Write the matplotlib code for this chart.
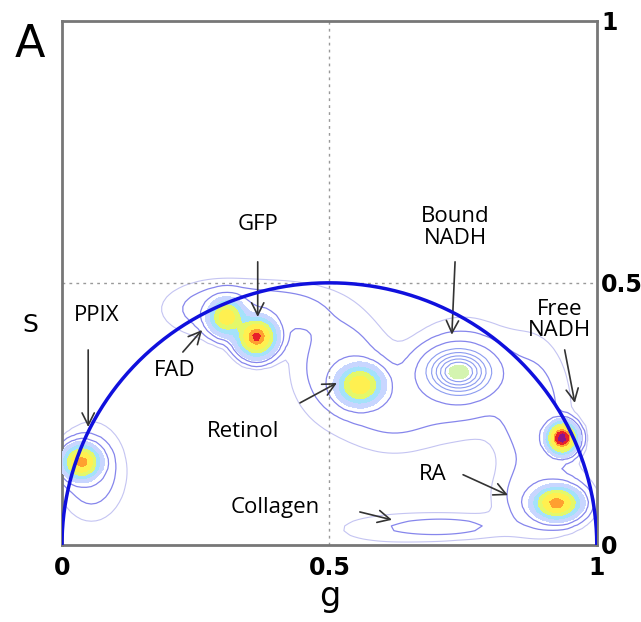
import numpy as np
import matplotlib
matplotlib.use('Agg')
from matplotlib import pyplot as plt

# compact populations (phasor peaks): g, s, sd_g, sd_s, height
peak_g = [0.037, 0.308, 0.364, 0.557, 0.935, 0.925]
peak_s = [0.158, 0.435, 0.397, 0.305, 0.204, 0.080]
peak_sdg = [0.018, 0.018, 0.019, 0.023, 0.014, 0.023]
peak_sds = [0.017, 0.018, 0.019, 0.020, 0.015, 0.016]
peak_h = [0.85, 0.62, 0.97, 0.64, 1.30, 0.86]

# bound NADH: broad, low peak drawn as rings
bound_g, bound_s, bound_sdg, bound_sds, bound_h = 0.742, 0.330, 0.036, 0.026, 0.30

# diffuse background (faint outer contours)
halo_g = [0.055, 0.300, 0.420, 0.520, 0.620, 0.750, 0.880, 0.900, 0.720, 0.600]
halo_s = [0.140, 0.450, 0.450, 0.340, 0.260, 0.320, 0.250, 0.090, 0.035, 0.030]
halo_sdg = [0.035, 0.060, 0.060, 0.050, 0.060, 0.060, 0.040, 0.050, 0.070, 0.070]
halo_sds = [0.050, 0.030, 0.030, 0.060, 0.050, 0.060, 0.080, 0.040, 0.015, 0.020]
halo_h = [0.030, 0.030, 0.020, 0.030, 0.020, 0.030, 0.025, 0.030, 0.020, 0.008]

labels = ['PPIX', 'GFP', 'FAD', 'Bound\nNADH', 'Free\nNADH', 'Retinol', 'RA', 'Collagen']
label_xy = [(0.064, 0.437), (0.366, 0.611), (0.211, 0.332), (0.735, 0.605),
            (0.931, 0.429), (0.338, 0.216), (0.693, 0.134), (0.398, 0.071)]
arrow_from = [(0.049, 0.372), (0.366, 0.540), (0.226, 0.368), (0.735, 0.540),
              (0.940, 0.372), (0.445, 0.271), (0.750, 0.134), (0.557, 0.063)]
arrow_to = [(0.049, 0.225), (0.366, 0.435), (0.262, 0.410), (0.729, 0.401),
            (0.959, 0.271), (0.514, 0.309), (0.834, 0.095), (0.617, 0.048)]


def gauss(g0, s0, a, b, h):
    return h * np.exp(-((gg - g0) ** 2 / (2 * a ** 2) + (ss - s0) ** 2 / (2 * b ** 2)))


gg, ss = np.meshgrid(np.linspace(0, 1, 111), np.linspace(0, 0.6, 67))
Zpeak = np.zeros_like(gg)
for p in zip(peak_g, peak_s, peak_sdg, peak_sds, peak_h):
    Zpeak += gauss(*p)
Zhalo = np.zeros_like(gg)
for p in zip(halo_g, halo_s, halo_sdg, halo_sds, halo_h):
    Zhalo += gauss(*p)
Zbound = gauss(bound_g, bound_s, bound_sdg, bound_sds, bound_h)
Z = Zpeak + Zhalo + Zbound

fig = plt.figure(figsize=(6.41, 6.22), dpi=100)
ax = fig.add_axes([0.0967, 0.1238, 0.8343, 0.843])

ax.contour(gg, ss, Z, levels=[0.005], colors='#c4c4f2', linewidths=0.8)
ax.contour(gg, ss, Z, levels=[0.014, 0.04], colors='#8686ec', linewidths=0.9)
ax.contour(gg, ss, Zbound, levels=[0.07, 0.11, 0.15, 0.19, 0.23], colors='#8c9cf0', linewidths=0.8)
ax.contourf(gg, ss, Zbound, levels=[0.26, 0.5], colors=['#d4f4b0'])

fill_cols = ['#c8d6ff', '#a4e2fa', '#e4f86a', '#fff050', '#ffa030', '#e8202a', '#8c148c']
ax.contourf(gg, ss, Zpeak, levels=[0.06, 0.15, 0.28, 0.45, 0.72, 0.88, 1.1, 2.0],
            colors=fill_cols, zorder=3)

# universal semicircle
t = np.linspace(0, np.pi, 400)
ax.plot(0.5 + 0.5 * np.cos(t), 0.5 * np.sin(t), color='#1010dd', lw=2.5, zorder=5)

ax.axvline(0.5, color='#999999', ls=(0, (2, 3)), lw=1)
ax.axhline(0.5, color='#999999', ls=(0, (2, 3)), lw=1)

for lab, xy, a0, a1 in zip(labels, label_xy, arrow_from, arrow_to):
    ax.text(xy[0], xy[1], lab, ha='center', va='center', fontsize=16,
            family='Open Sans', linespacing=1.05)
    ax.annotate('', xy=a1, xytext=a0,
                arrowprops=dict(arrowstyle='->', color='#333333', lw=1.2,
                                mutation_scale=22, shrinkA=0, shrinkB=0))

ax.set_xlim(0, 1)
ax.set_ylim(0, 1)
ax.set_xticks([0, 0.5, 1])
ax.set_xticklabels(['0', '0.5', '1'], fontsize=17, fontweight='bold')
ax.set_yticks([0, 0.5, 1])
ax.set_yticklabels(['0', '0.5', '1'], fontsize=17, fontweight='bold')
ax.yaxis.tick_right()
ax.tick_params(axis='both', length=0, pad=8)
ax.tick_params(axis='y', pad=3)
for sp in ax.spines.values():
    sp.set_color('#777777')
    sp.set_linewidth(2)

ax.set_xlabel('g', fontsize=24, labelpad=0)
fig.text(0.047, 0.477, 'S', fontsize=18, ha='center', va='center')
fig.text(0.047, 0.928, 'A', fontsize=32, ha='center', va='center')

plt.savefig('out.png', dpi=100)
